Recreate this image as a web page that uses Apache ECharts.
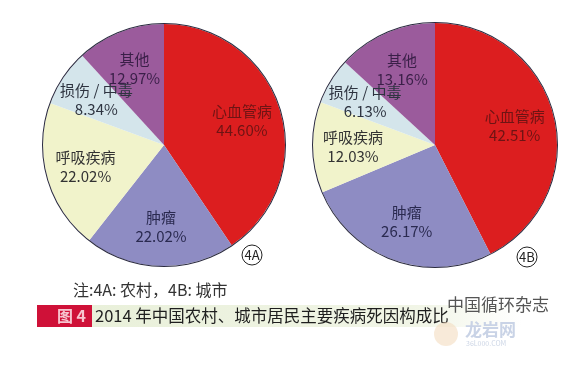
<!DOCTYPE html>
<html><head><meta charset="utf-8">
<script src="https://cdn.jsdelivr.net/npm/echarts@6/dist/echarts.min.js"></script>
<style>html,body{margin:0;padding:0;background:#fff}#c{width:584px;height:366px}</style>
</head><body><div id="c"></div>
<script>
const categories = ['心血管病', '肿瘤', '呼吸疾病', '损伤 / 中毒', '其他'];
const ruralValues = [44.60, 22.02, 22.02, 8.34, 12.97];
const urbanValues = [42.51, 26.17, 12.03, 6.13, 13.16];
const sliceColors = ['#dc1e1f', '#8e8cc3', '#f1f3cb', '#d4e5eb', '#9b5b9c'];
const labelColors = ['#6e1414', '#2a2a50', '#333333', '#2e3440', '#3a1f48'];
const noteText = '注:4A: 农村，4B: 城市';
const captionTag = '图 4';
const captionText = '2014 年中国农村、城市居民主要疾病死因构成比';
const FONT = '"Noto Sans CJK SC", "Noto Sans", sans-serif';

function pieSeries(values, center, r) {
  return {
    type: 'pie', center: center, radius: [0, r], startAngle: 90, clockwise: true,
    silent: true, animation: false, avoidLabelOverlap: false,
    label: { show: false }, labelLine: { show: false },
    itemStyle: { borderWidth: 0 },
    data: categories.map((n, i) => ({ name: n, value: values[i], itemStyle: { color: sliceColors[i] } }))
  };
}
function labelSeries(values, center, r) {
  return {
    type: 'pie', center: center, radius: [36, r], startAngle: 90, clockwise: true,
    silent: true, animation: false, avoidLabelOverlap: false,
    labelLayout: { hideOverlap: false },
    label: {
      show: true, position: 'inside', fontFamily: FONT, fontSize: 15, lineHeight: 19,
      formatter: p => p.name + '\n' + p.value.toFixed(2) + '%'
    },
    labelLine: { show: false },
    itemStyle: { color: 'rgba(0,0,0,0)', borderWidth: 0 },
    data: categories.map((n, i) => ({ name: n, value: values[i], label: { color: labelColors[i] } }))
  };
}
function ring(center, r) {
  return { type: 'pie', center: center, radius: [r, r + 1], silent: true, animation: false,
    label: { show: false }, itemStyle: { color: '#2b2b40' }, data: [1] };
}
const chart = echarts.init(document.getElementById('c'), null, { renderer: 'canvas' });
chart.setOption({
  backgroundColor: '#ffffff',
  animation: false,
  series: [
    pieSeries(ruralValues, [164, 145], 121), ring([164, 145], 121), labelSeries(ruralValues, [164, 145], 121),
    pieSeries(urbanValues, [435, 145], 122), ring([435, 145], 122), labelSeries(urbanValues, [435, 145], 122)
  ],
  graphic: [
    { type: 'circle', shape: { cx: 252, cy: 255, r: 10 }, style: { fill: 'none', stroke: '#222', lineWidth: 1 } },
    { type: 'text', x: 252, y: 255, style: { text: '4A', fill: '#222', font: '13px ' + FONT, align: 'center', verticalAlign: 'middle' } },
    { type: 'circle', shape: { cx: 527, cy: 257, r: 10 }, style: { fill: 'none', stroke: '#222', lineWidth: 1 } },
    { type: 'text', x: 527, y: 257, style: { text: '4B', fill: '#222', font: '13px ' + FONT, align: 'center', verticalAlign: 'middle' } },
    { type: 'text', x: 73, y: 290, style: { text: noteText, fill: '#333', font: '16px ' + FONT, verticalAlign: 'middle' } },
    { type: 'rect', shape: { x: 92, y: 305, width: 430, height: 22 },
      style: { fill: new echarts.graphic.LinearGradient(0, 0, 1, 0, [
        { offset: 0, color: '#e9f0da' }, { offset: 0.75, color: '#f1f5e6' }, { offset: 1, color: '#ffffff' }]) } },
    { type: 'rect', shape: { x: 37, y: 305, width: 55, height: 22 }, style: { fill: '#cf1138' } },
    { type: 'text', x: 86, y: 316, style: { text: captionTag, fill: '#f7c6d0', font: 'bold 16px ' + FONT, align: 'right', verticalAlign: 'middle' } },
    { type: 'text', x: 95, y: 316, style: { text: captionText, fill: '#1e1e1e', font: '16.5px ' + FONT, verticalAlign: 'middle' } },
    { type: 'text', x: 447, y: 305, style: { text: '中国循环杂志', fill: '#555', font: '17px ' + FONT, verticalAlign: 'middle' } },
    { type: 'circle', shape: { cx: 446, cy: 334, r: 12 }, style: { fill: '#f3dcc0', opacity: 0.6 } },
    { type: 'text', x: 465, y: 330, style: { text: '龙岩网', fill: '#c9d3e6', font: 'bold 17px ' + FONT, verticalAlign: 'middle' } },
    { type: 'text', x: 466, y: 343, style: { text: '36L000.COM', fill: '#cdd6e6', font: '7px ' + FONT, verticalAlign: 'middle' } }
  ]
});
</script></body></html>
